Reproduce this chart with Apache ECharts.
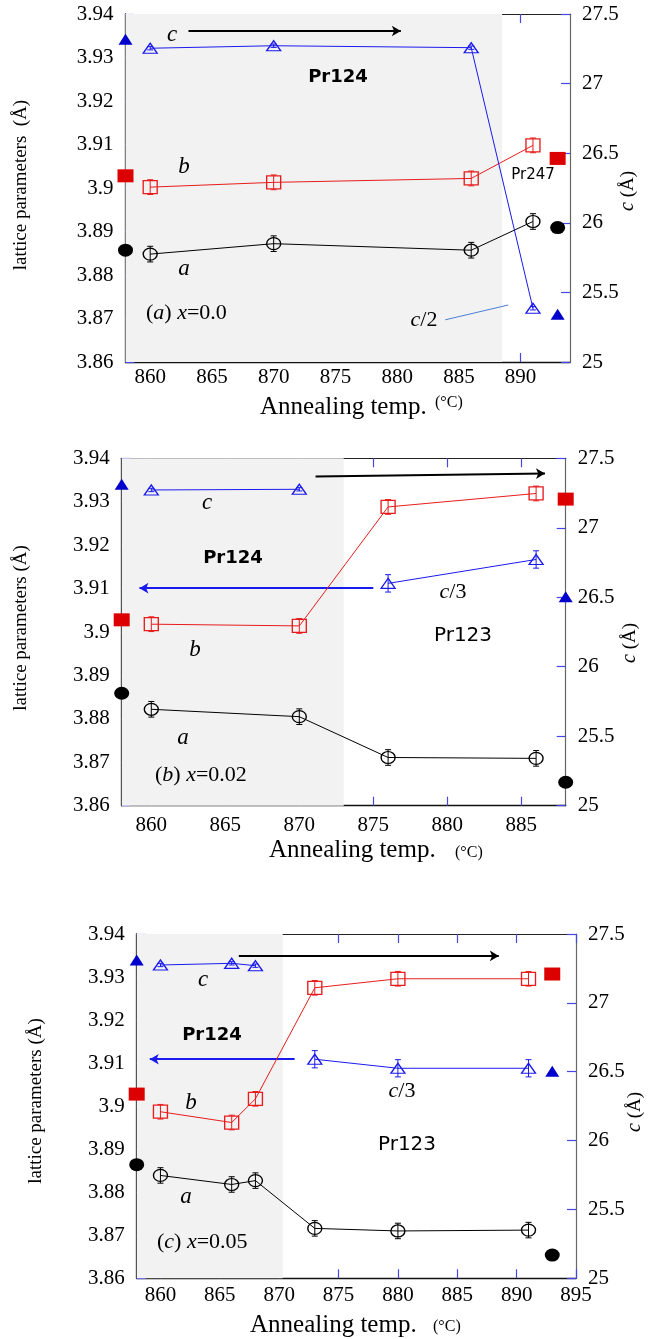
<!DOCTYPE html>
<html>
<head>
<meta charset="utf-8">
<script src="https://cdn.jsdelivr.net/npm/echarts@6/dist/echarts.min.js"></script>
<style>
  html, body { margin: 0; padding: 0; background: #fff; }
  #chart { width: 649px; height: 1339px; }
</style>
</head>
<body>
<div id="chart"></div>
<script>
// ---- data (lattice parameters vs annealing temperature) ----
// panel (a) x=0.0
const tempA = [860, 870, 886, 891];
const aA = [3.8848, 3.8872, 3.8857, 3.8923];
const bA = [3.9002, 3.9013, 3.9022, 3.9098];
const cA = [27.254, 27.272, 27.258, 25.386]; // right axis (c, last point c/2)
const refTempA = [858, 893];
const refaA = [3.8857, 3.8909];
const refbA = [3.9028, 3.9068];
const refcA = [27.318, 25.343];

// panel (b) x=0.02
const tempB = [860, 870, 876, 886];
const aB = [3.8822, 3.8805, 3.8711, 3.8709];
const bB = [3.9018, 3.9014, 3.9288, 3.9319];
const cTempB = [860, 870];
const cB = [27.272, 27.277];
const c3TempB = [876, 886];
const c3B = [3.9112, 3.9167];
const refTempB = [858, 888];
const refaB = [3.8859, 3.8654];
const refbB = [3.9028, 3.9306];
const refcB = [27.313];
const refc3B = [3.9081];

// panel (c) x=0.05
const tempC = [860, 866, 868, 873, 880, 891];
const aC = [3.8839, 3.8818, 3.8827, 3.8716, 3.8710, 3.8712];
const bC = [3.8987, 3.8962, 3.9017, 3.9275, 3.9296, 3.9296];
const cTempC = [860, 866, 868];
const cC = [27.275, 27.287, 27.270];
const c3TempC = [873, 880, 891];
const c3C = [3.9109, 3.9088, 3.9088];
const refTempC = [858, 893];
const refaC = [3.8864, 3.8654];
const refbC = [3.9028, 3.9307];
const refcC = [27.311];
const refc3C = [3.9081];

// error bars
const errA = 0.0018, errB = 0.0017, errC3 = 0.002, errCc = 0.012;

// axes
const xRanges = [[858, 894], [858, 888], [858, 895]];
const xTicks = [
  [860, 865, 870, 875, 880, 885, 890],
  [860, 865, 870, 875, 880, 885],
  [860, 865, 870, 875, 880, 885, 890, 895],
];
const shadeEnd = [888.5, 873, 870.3];

// arrows / guide lines: [x1, y1, x2, y2] in left-axis units
const blackArrows = [[863.1, 3.9361, 880.3, 3.9361], [871.1, 3.9358, 886.6, 3.9365], [866.6, 3.9349, 888.5, 3.9349]];
const blueArrows = [null, [875, 3.9101, 859.2, 3.9101], [871.3, 3.9109, 859.1, 3.9109]];
const c2Guide = [883.9, 3.8697, 889.0, 3.8731];

const BLUE = "#1a1aee";
const RED = "#e81c1c";
const TICK = "#4646e6";
const SERIF = '"Liberation Serif", "Times New Roman", serif';
const SANS = '"DejaVu Sans", sans-serif';

const grids = [
  { left: 125.5, top: 14, width: 444.5, height: 348 },
  { left: 121.7, top: 458.3, width: 444, height: 347.4 },
  { left: 136.7, top: 934, width: 439.3, height: 344.3 },
];
const xLabelMargin = [5, 9, 7];

function pts(xs, ys) {
  return xs.map((x, i) => [x, ys[i]]);
}

function lineSeries(p, onRight, xs, ys, symbol, size, color) {
  return {
    type: "line",
    xAxisIndex: p * 2,
    yAxisIndex: p * 2 + (onRight ? 1 : 0),
    data: pts(xs, ys),
    symbol: symbol,
    symbolSize: size,
    showAllSymbol: true,
    lineStyle: { color: color, width: 1 },
    itemStyle: { color: "transparent", borderColor: color, borderWidth: 1.3 },
    z: 5,
  };
}

function errSeries(p, onRight, xs, ys, err, color) {
  return {
    type: "custom",
    xAxisIndex: p * 2,
    yAxisIndex: p * 2 + (onRight ? 1 : 0),
    data: xs.map((x, i) => [x, ys[i], err]),
    encode: { x: 0, y: 1 },
    z: 6,
    renderItem(params, api) {
      const x = api.value(0), y = api.value(1), e = api.value(2);
      const t = api.coord([x, y + e]);
      const b = api.coord([x, y - e]);
      const st = { stroke: color, lineWidth: 1 };
      return {
        type: "group",
        children: [
          { type: "line", shape: { x1: t[0], y1: t[1], x2: b[0], y2: b[1] }, style: st },
          { type: "line", shape: { x1: t[0] - 3, y1: t[1], x2: t[0] + 3, y2: t[1] }, style: st },
          { type: "line", shape: { x1: b[0] - 3, y1: b[1], x2: b[0] + 3, y2: b[1] }, style: st },
        ],
      };
    },
  };
}

function refSeries(p, onRight, xs, ys, symbol, size, color) {
  return {
    type: "scatter",
    xAxisIndex: p * 2,
    yAxisIndex: p * 2 + (onRight ? 1 : 0),
    data: pts(xs, ys),
    symbol: symbol,
    symbolSize: size,
    clip: false,
    itemStyle: { color: color, opacity: 1 },
    z: 7,
  };
}

function shadeSeries(p) {
  return {
    type: "custom",
    xAxisIndex: p * 2,
    yAxisIndex: p * 2,
    data: [[xRanges[p][0], shadeEnd[p], 3.94, 3.86]],
    encode: { x: [0, 1], y: [2, 3] },
    z: 1,
    silent: true,
    renderItem(params, api) {
      const p0 = api.coord([api.value(0), api.value(2)]);
      const p1 = api.coord([api.value(1), api.value(3)]);
      return {
        type: "rect",
        shape: { x: p0[0], y: p0[1], width: p1[0] - p0[0], height: p1[1] - p0[1] },
        style: { fill: "#f2f2f2" },
      };
    },
  };
}

function arrowLines(p) {
  const data = [];
  const k = blackArrows[p];
  data.push([
    { coord: [k[0], k[1]], symbol: "none", lineStyle: { color: "#000", width: 2 } },
    { coord: [k[2], k[3]], symbol: "arrow", symbolSize: [8, 9] },
  ]);
  const u = blueArrows[p];
  if (u) {
    data.push([
      { coord: [u[0], u[1]], symbol: "none", lineStyle: { color: BLUE, width: 2 } },
      { coord: [u[2], u[3]], symbol: "arrow", symbolSize: [8, 9] },
    ]);
  }
  if (p === 0) {
    data.push([
      { coord: [c2Guide[0], c2Guide[1]], symbol: "none", lineStyle: { color: "#4a7fd6", width: 1 } },
      { coord: [c2Guide[2], c2Guide[3]], symbol: "none" },
    ]);
  }
  return {
    silent: true,
    animation: false,
    symbol: ["none", "arrow"],
    label: { show: false },
    lineStyle: { type: "solid" },
    emphasis: { disabled: true },
    data: data,
  };
}

function axesFor(p) {
  const g = p;
  const tickStyle = { inside: true, length: 9, lineStyle: { color: TICK, width: 1.2 } };
  const labelStyle = { color: "#000", fontFamily: SERIF, fontSize: 21 };
  const x = [
    {
      gridIndex: g, type: "value", position: "bottom",
      min: xRanges[p][0], max: xRanges[p][1],
      axisLine: { lineStyle: { color: "#111", width: 1.3 } },
      axisTick: Object.assign({ customValues: xTicks[p] }, tickStyle),
      axisLabel: Object.assign({ customValues: xTicks[p], margin: xLabelMargin[p] }, labelStyle),
      splitLine: { show: false },
    },
    {
      gridIndex: g, type: "value", position: "top",
      min: xRanges[p][0], max: xRanges[p][1],
      axisLine: { lineStyle: { color: "#222", width: 1.2 } },
      axisTick: Object.assign({ customValues: xTicks[p] }, tickStyle),
      axisLabel: { show: false },
      splitLine: { show: false },
    },
  ];
  const y = [
    {
      gridIndex: g, type: "value", position: "left",
      min: 3.86, max: 3.94, interval: 0.01,
      axisLine: { show: true, lineStyle: { color: "#111", width: 1.3 } },
      axisTick: tickStyle,
      axisLabel: Object.assign({ margin: 12 }, labelStyle),
      splitLine: { show: false },
    },
    {
      gridIndex: g, type: "value", position: "right",
      min: 25, max: 27.5, interval: 0.5,
      axisLine: { show: true, lineStyle: { color: "#666", width: 1.2 } },
      axisTick: tickStyle,
      axisLabel: Object.assign({ margin: 12 }, labelStyle),
      splitLine: { show: false },
    },
  ];
  return { x, y };
}

const xAxes = [], yAxes = [];
for (let p = 0; p < 3; p++) {
  const ax = axesFor(p);
  xAxes.push(...ax.x);
  yAxes.push(...ax.y);
}

const CIRC = [14, 12], SQR = [14, 13], TRI = [14, 10];
const series = [];
// panel (a)
series.push(shadeSeries(0));
series.push(Object.assign(lineSeries(0, false, tempA, aA, "circle", CIRC, "#000"), { markLine: arrowLines(0) }));
series.push(errSeries(0, false, tempA, aA, errA, "#000"));
series.push(lineSeries(0, false, tempA, bA, "rect", SQR, RED));
series.push(errSeries(0, false, tempA, bA, errB, RED));
series.push(lineSeries(0, true, tempA, cA, "triangle", TRI, BLUE));
series.push(errSeries(0, true, tempA, cA, errCc, BLUE));
series.push(refSeries(0, false, refTempA, refaA, "circle", [15, 13], "#000"));
series.push(refSeries(0, false, refTempA, refbA, "rect", [16, 13], "#dd0000"));
series.push(refSeries(0, true, refTempA, refcA, "triangle", [14, 11], "#0000cc"));
// panel (b)
series.push(shadeSeries(1));
series.push(Object.assign(lineSeries(1, false, tempB, aB, "circle", CIRC, "#000"), { markLine: arrowLines(1) }));
series.push(errSeries(1, false, tempB, aB, errA, "#000"));
series.push(lineSeries(1, false, tempB, bB, "rect", SQR, RED));
series.push(errSeries(1, false, tempB, bB, errB, RED));
series.push(lineSeries(1, true, cTempB, cB, "triangle", TRI, BLUE));
series.push(errSeries(1, true, cTempB, cB, errCc, BLUE));
series.push(lineSeries(1, false, c3TempB, c3B, "triangle", TRI, BLUE));
series.push(errSeries(1, false, c3TempB, c3B, errC3, BLUE));
series.push(refSeries(1, false, refTempB, refaB, "circle", [15, 13], "#000"));
series.push(refSeries(1, false, refTempB, refbB, "rect", [16, 13], "#dd0000"));
series.push(refSeries(1, true, [858], refcB, "triangle", [14, 11], "#0000cc"));
series.push(refSeries(1, false, [888], refc3B, "triangle", [14, 11], "#0000cc"));
// panel (c)
series.push(shadeSeries(2));
series.push(Object.assign(lineSeries(2, false, tempC, aC, "circle", CIRC, "#000"), { markLine: arrowLines(2) }));
series.push(errSeries(2, false, tempC, aC, errA, "#000"));
series.push(lineSeries(2, false, tempC, bC, "rect", SQR, RED));
series.push(errSeries(2, false, tempC, bC, errB, RED));
series.push(lineSeries(2, true, cTempC, cC, "triangle", TRI, BLUE));
series.push(errSeries(2, true, cTempC, cC, errCc, BLUE));
series.push(lineSeries(2, false, c3TempC, c3C, "triangle", TRI, BLUE));
series.push(errSeries(2, false, c3TempC, c3C, errC3, BLUE));
series.push(refSeries(2, false, refTempC, refaC, "circle", [15, 13], "#000"));
series.push(refSeries(2, false, refTempC, refbC, "rect", [16, 13], "#dd0000"));
series.push(refSeries(2, true, [858], refcC, "triangle", [14, 11], "#0000cc"));
series.push(refSeries(2, false, [893], refc3C, "triangle", [14, 11], "#0000cc"));

// ---- text annotations (pixel layout) ----
const rich = {
  n: { fontFamily: SERIF, fontSize: 22, fill: "#000" },
  i: { fontFamily: SERIF, fontSize: 22, fontStyle: "italic", fill: "#000" },
  ln: { fontFamily: SERIF, fontSize: 19, fill: "#000" },
  li: { fontFamily: SERIF, fontSize: 20, fontStyle: "italic", fill: "#000" },
};

function txt(x, y, text, font, align, rotation) {
  return {
    type: "text", x: x, y: y, rotation: rotation || 0, silent: true, z: 100,
    style: { text: text, font: font, fill: "#000", align: align || "center", verticalAlign: "middle", rich: rich },
  };
}
const ITAL = "italic 23px " + SERIF;
const BOLD = "bold 18px " + SANS;
const graphics = [
  // panel (a)
  txt(172, 35, "c", ITAL),
  txt(338, 77, "Pr124", BOLD),
  txt(184, 167, "b", ITAL),
  txt(184, 269, "a", ITAL),
  txt(146, 313, "{n|(}{i|a}{n|) }{i|x}{n|=0.0}", "22px " + SERIF, "left"),
  txt(533, 175, "Pr247", "15px " + SANS),
  txt(424, 320, "{i|c}{n|/2}", "22px " + SERIF),
  txt(21, 185, "{ln|lattice parameters  (Å)}", "19px " + SERIF, "center", Math.PI / 2),
  txt(628, 191, "{li|c} {ln|(Å)}", "19px " + SERIF, "center", Math.PI / 2),
  txt(260, 407, "Annealing temp.", "25px " + SERIF, "left"),
  txt(435, 403, "(°C)", "16px " + SERIF, "left"),
  // panel (b)
  txt(207, 503, "c", ITAL),
  txt(233, 558, "Pr124", BOLD),
  txt(195, 650, "b", ITAL),
  txt(183, 738, "a", ITAL),
  txt(155, 775, "{n|(}{i|b}{n|) }{i|x}{n|=0.02}", "22px " + SERIF, "left"),
  txt(453, 592, "{i|c}{n|/3}", "22px " + SERIF),
  txt(463, 636, "Pr123", "20px " + SANS),
  txt(21, 628, "{ln|lattice parameters (Å)}", "19px " + SERIF, "center", Math.PI / 2),
  txt(630, 643, "{li|c} {ln|(Å)}", "19px " + SERIF, "center", Math.PI / 2),
  txt(269, 850, "Annealing temp.", "25px " + SERIF, "left"),
  txt(455, 853, "(°C)", "16px " + SERIF, "left"),
  // panel (c)
  txt(203, 980, "c", ITAL),
  txt(212, 1035, "Pr124", BOLD),
  txt(191, 1103, "b", ITAL),
  txt(186, 1197, "a", ITAL),
  txt(157, 1242, "{n|(}{i|c}{n|) }{i|x}{n|=0.05}", "22px " + SERIF, "left"),
  txt(402, 1091, "{i|c}{n|/3}", "20px " + SERIF),
  txt(407, 1145, "Pr123", "20px " + SANS),
  txt(36, 1101, "{ln|lattice parameters (Å)}", "19px " + SERIF, "center", Math.PI / 2),
  txt(635, 1112, "{li|c} {ln|(Å)}", "19px " + SERIF, "center", Math.PI / 2),
  txt(250, 1325, "Annealing temp.", "25px " + SERIF, "left"),
  txt(433, 1327, "(°C)", "16px " + SERIF, "left"),
];

const chartInstance = echarts.init(document.getElementById("chart"));
chartInstance.setOption({
  animation: false,
  backgroundColor: "#fff",
  grid: grids,
  xAxis: xAxes,
  yAxis: yAxes,
  series: series,
  graphic: graphics,
});
</script>
</body>
</html>
